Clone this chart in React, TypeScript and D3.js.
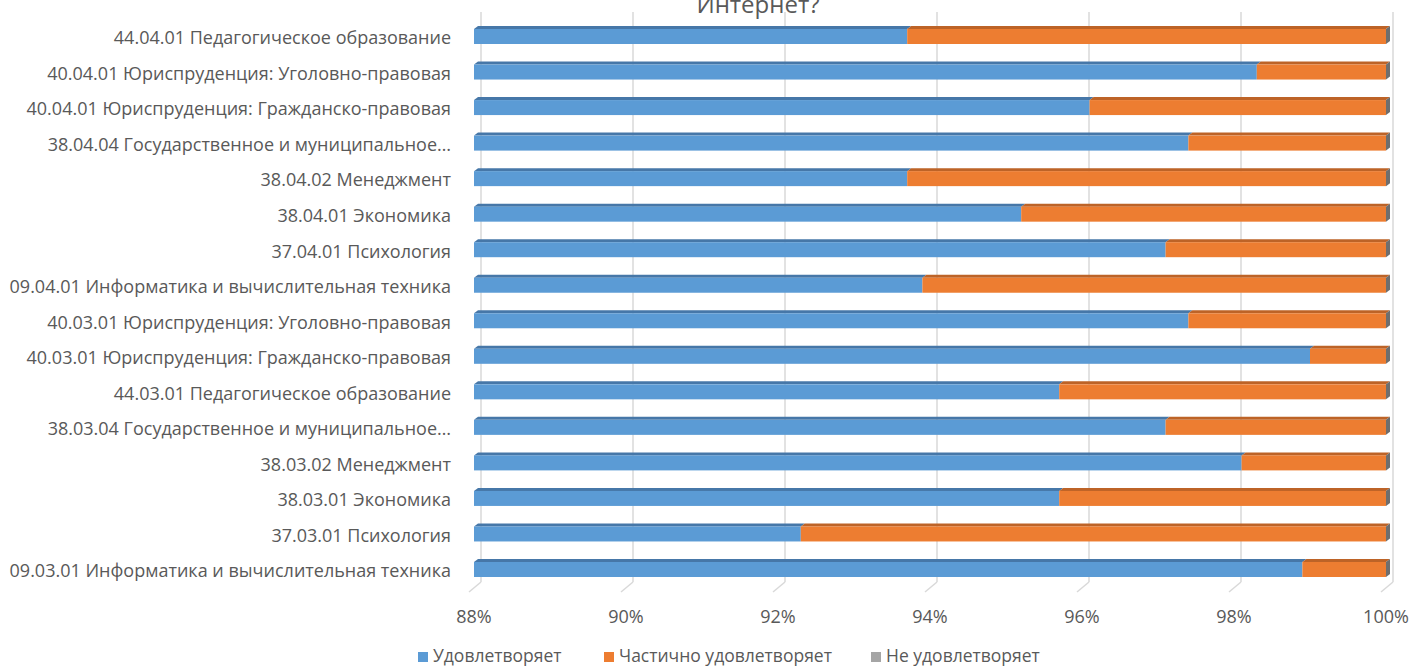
import React from "react";
import * as d3 from "d3";

const categories = [
  "44.04.01 Педагогическое образование",
  "40.04.01 Юриспруденция: Уголовно-правовая",
  "40.04.01 Юриспруденция: Гражданско-правовая",
  "38.04.04 Государственное и муниципальное…",
  "38.04.02 Менеджмент",
  "38.04.01 Экономика",
  "37.04.01 Психология",
  "09.04.01 Информатика и вычислительная техника",
  "40.03.01 Юриспруденция: Уголовно-правовая",
  "40.03.01 Юриспруденция: Гражданско-правовая",
  "44.03.01 Педагогическое образование",
  "38.03.04 Государственное и муниципальное…",
  "38.03.02 Менеджмент",
  "38.03.01 Экономика",
  "37.03.01 Психология",
  "09.03.01 Информатика и вычислительная техника",
];

const satisfied = [93.7, 98.3, 96.1, 97.4, 93.7, 95.2, 97.1, 93.9, 97.4, 99.0, 95.7, 97.1, 98.1, 95.7, 92.3, 98.9];
const partially = [6.3, 1.7, 3.9, 2.6, 6.3, 4.8, 2.9, 6.1, 2.6, 1.0, 4.3, 2.9, 1.9, 4.3, 7.7, 1.1];
const notSatisfied = [0, 0, 0, 0, 0, 0, 0, 0, 0, 0, 0, 0, 0, 0, 0, 0];

const ticks = [88, 90, 92, 94, 96, 98, 100];
const seriesNames = ["Удовлетворяет", "Частично удовлетворяет", "Не удовлетворяет"];
const titleText = "Интернет?";

const colors = ["#5B9BD5", "#ED7D31", "#A5A5A5"];
const topColors = ["#4677A8", "#BD6327", "#858585"];

export default function App() {
  const W = 1409, H = 668;
  const x = d3.scaleLinear().domain([88, 100]).range([474, 1386]);
  const y = d3.scalePoint<string>().domain(categories).range([36.5, 569.5]);
  const bh = 15;
  const dx = 4, dy = 3;
  const font = "'Open Sans', Lato, sans-serif";
  const textColor = "#595959";
  const series = [satisfied, partially, notSatisfied];

  const bars: React.ReactNode[] = [];
  categories.forEach((c, i) => {
    const yc = y(c)!;
    const yt = yc - bh / 2;
    let cum = 0;
    const segs: { x0: number; x1: number; s: number }[] = [];
    series.forEach((arr, s) => {
      const v0 = cum;
      const v1 = cum + arr[i];
      cum = v1;
      const a = Math.max(v0, 88);
      const b = Math.min(v1, 100);
      if (b > a) segs.push({ x0: x(a), x1: x(b), s });
    });
    segs.forEach((sg, k) => {
      bars.push(
        <g key={`b${i}-${k}`}>
          <path
            d={`M${sg.x0},${yt} L${sg.x0 + dx},${yt - dy} L${sg.x1 + dx},${yt - dy} L${sg.x1},${yt} Z`}
            fill={topColors[sg.s]}
          />
          <rect x={sg.x0} y={yt} width={sg.x1 - sg.x0} height={bh} fill={colors[sg.s]} />
        </g>
      );
    });
    const last = segs[segs.length - 1];
    if (last) {
      bars.push(
        <path
          key={`side${i}`}
          d={`M${last.x1},${yt} L${last.x1 + dx},${yt - dy} L${last.x1 + dx},${yt - dy + bh} L${last.x1},${yt + bh} Z`}
          fill="#6E6E6E"
        />
      );
    }
  });

  return (
    <svg width={W} height={H} style={{ position: "absolute", left: 0, top: 0, background: "#fff" }}>
      <rect x={0} y={0} width={W} height={H} fill="#fff" />
      <text x={758} y={13} textAnchor="middle" fontFamily={font} fontSize={24} fill={textColor}>
        {titleText}
      </text>
      {ticks.map((t) => (
        <g key={`g${t}`}>
          <line x1={x(t) + 7} x2={x(t) + 7} y1={12} y2={582} stroke="#D9D9D9" strokeWidth={1.5} />
          <line x1={x(t) + 7} x2={x(t) - 5} y1={582} y2={592} stroke="#D9D9D9" strokeWidth={1.5} />
        </g>
      ))}
      {bars}
      {categories.map((c) => (
        <text
          key={`l${c}`}
          x={451}
          y={y(c)! + 3}
          textAnchor="end"
          dominantBaseline="middle"
          fontFamily={font}
          fontSize={18}
          fill={textColor}
        >
          {c}
        </text>
      ))}
      {ticks.map((t) => (
        <text
          key={`t${t}`}
          x={x(t)}
          y={618}
          textAnchor="middle"
          dominantBaseline="middle"
          fontFamily={font}
          fontSize={18}
          fill={textColor}
        >
          {`${t}%`}
        </text>
      ))}
      {(() => {
        const lx = [418, 604, 871];
        return seriesNames.map((n, k) => (
          <g key={`lg${k}`}>
            <rect x={lx[k]} y={652} width={10} height={10} fill={colors[k]} />
            <text x={lx[k] + 15} y={657} dominantBaseline="middle" fontFamily={font} fontSize={17.5} fill={textColor}>
              {n}
            </text>
          </g>
        ));
      })()}
    </svg>
  );
}
